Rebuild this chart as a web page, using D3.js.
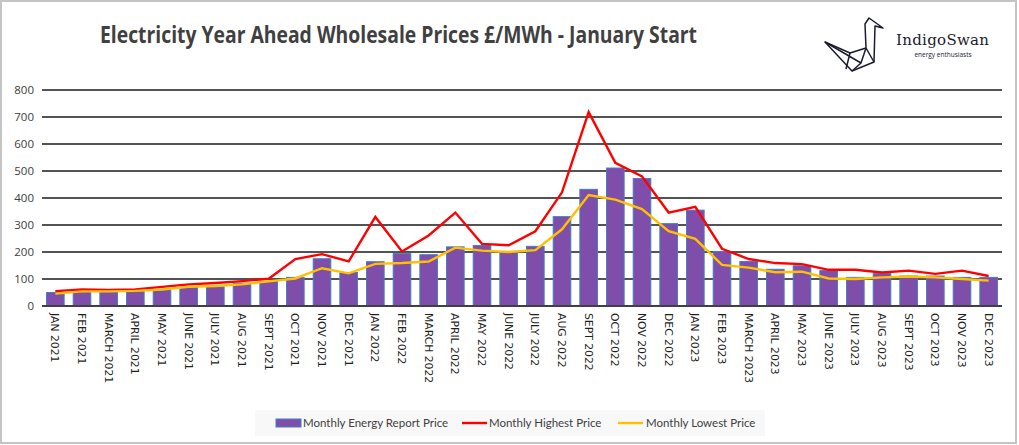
<!DOCTYPE html>
<html>
<head>
<meta charset="utf-8">
<script src="https://cdn.jsdelivr.net/npm/d3@7"></script>
<style>
  body { margin: 0; background: #fff; }
  svg { display: block; }
</style>
</head>
<body>
<div id="chart"></div>
<script>
// Chart data
const months = ['JAN 2021','FEB 2021','MARCH 2021','APRIL 2021','MAY 2021','JUNE 2021','JULY 2021','AUG 2021','SEPT 2021','OCT 2021','NOV 2021','DEC 2021',
  'JAN 2022','FEB 2022','MARCH 2022','APRIL 2022','MAY 2022','JUNE 2022','JULY 2022','AUG 2022','SEPT 2022','OCT 2022','NOV 2022','DEC 2022',
  'JAN 2023','FEB 2023','MARCH 2023','APRIL 2023','MAY 2023','JUNE 2023','JULY 2023','AUG 2023','SEPT 2023','OCT 2023','NOV 2023','DEC 2023'];
const reportPrice = [50,52,52,55,61,69,71,85,91,106,175,124, 164,194,190,219,224,200,221,331,432,511,472,305, 355,202,165,136,149,131,106,121,111,111,106,106];
const highestPrice = [55,61,59,61,71,80,85,92,101,174,192,165, 330,202,261,346,230,225,277,421,718,530,480,346, 367,212,174,159,155,134,134,124,131,119,131,111];
const lowestPrice = [46,54,54,56,61,71,74,80,91,102,140,121, 156,159,165,216,205,200,207,284,411,394,359,277, 249,152,142,125,127,102,100,106,109,106,100,94];
const yTicks = [0,100,200,300,400,500,600,700,800];
const legendLabels = ['Monthly Energy Report Price','Monthly Highest Price','Monthly Lowest Price'];

const W = 1019, H = 445;
const svg = d3.select('#chart').append('svg')
    .attr('width', W)
    .attr('height', H);

// Outer frame
svg.append('rect')
    .attr('x', 1).attr('y', 1)
    .attr('width', 1015).attr('height', 442)
    .attr('fill', '#fff')
    .attr('stroke', '#c4c4c4')
    .attr('stroke-width', 2);

// Title
svg.append('text')
    .attr('x', 100).attr('y', 43)
    .attr('textLength', 597)
    .attr('lengthAdjust', 'spacingAndGlyphs')
    .attr('font-family', '"Liberation Sans Narrow", "Open Sans", sans-serif')
    .attr('font-weight', 'bold')
    .attr('font-size', 24)
    .attr('fill', '#404040')
    .text('Electricity Year Ahead Wholesale Prices £/MWh - January Start');

// Logo (origami swan)
const logo = svg.append('g')
    .attr('fill', 'none')
    .attr('stroke', '#1c1c30')
    .attr('stroke-width', 1.5)
    .attr('stroke-linejoin', 'round');
logo.append('path').attr('d', 'M869,18 L883,28 L875,26 L874,62 L852,71 L825,42 L850,53 L866,48 L865,24 Z');
logo.append('path').attr('d', 'M825,42 L861,63 L852,71 M850,53 L846,69 M866,48 L874,62 M861,63 L866,48');
svg.append('text')
    .attr('x', 896).attr('y', 45)
    .attr('font-family', '"DejaVu Serif", serif')
    .attr('font-size', 15)
    .attr('fill', '#1c1c30')
    .attr('textLength', 93)
    .text('IndigoSwan');
svg.append('text')
    .attr('x', 943).attr('y', 57)
    .attr('text-anchor', 'middle')
    .attr('font-family', '"Open Sans", sans-serif')
    .attr('font-size', 6.5)
    .attr('fill', '#1c1c30')
    .text('energy enthusiasts');

// Scales
const x = d3.scaleBand()
    .domain(months)
    .range([42, 1002])
    .paddingInner(0.34)
    .paddingOuter(0.17);

const xc = d => x(d) + x.bandwidth() / 2;

const y = d3.scaleLinear()
    .domain([0, 800])
    .range([306, 90]);

// Gridlines
svg.append('g').selectAll('line')
    .data(yTicks.filter(d => d > 0))
    .enter().append('line')
    .attr('x1', 42).attr('x2', 1002)
    .attr('y1', d => y(d)).attr('y2', d => y(d))
    .attr('stroke', '#1a1a1a')
    .attr('stroke-width', 1.4);

// Y axis labels
const yAxis = svg.append('g')
    .attr('transform', 'translate(42,0)')
    .call(d3.axisLeft(y).tickValues(yTicks).tickSize(0).tickPadding(8));
yAxis.select('.domain').remove();
yAxis.selectAll('text')
    .attr('font-family', '"Open Sans", sans-serif')
    .attr('font-size', 11.5)
    .attr('fill', '#404040');

// Bars
svg.append('g').selectAll('rect')
    .data(reportPrice)
    .enter().append('rect')
    .attr('x', (d, i) => x(months[i]))
    .attr('y', d => y(d))
    .attr('width', x.bandwidth())
    .attr('height', d => y(0) - y(d))
    .attr('fill', '#7f4eab')
    .attr('stroke', '#3f7fc4')
    .attr('stroke-width', 1);

// Baseline
svg.append('line')
    .attr('x1', 42).attr('x2', 1002)
    .attr('y1', y(0)).attr('y2', y(0))
    .attr('stroke', '#404040')
    .attr('stroke-width', 2);

// X axis labels (rotated)
svg.append('g').selectAll('text')
    .data(months)
    .enter().append('text')
    .attr('transform', d => `translate(${xc(d) - 4},313) rotate(90)`)
    .attr('font-family', '"DejaVu Sans", sans-serif')
    .attr('font-size', 10.8)
    .attr('fill', '#1f1f1f')
    .text(d => d);

// Lines
const line = d3.line()
    .x((d, i) => xc(months[i]))
    .y(d => y(d));

svg.append('path')
    .datum(highestPrice)
    .attr('d', line)
    .attr('fill', 'none')
    .attr('stroke', '#ff0000')
    .attr('stroke-width', 2.4);

svg.append('path')
    .datum(lowestPrice)
    .attr('d', line)
    .attr('fill', 'none')
    .attr('stroke', '#ffc000')
    .attr('stroke-width', 2.4);

// Legend
const legend = svg.append('g');
legend.append('rect')
    .attr('x', 255).attr('y', 410)
    .attr('width', 510).attr('height', 26)
    .attr('fill', '#f8f8f8');
legend.append('rect')
    .attr('x', 276).attr('y', 419)
    .attr('width', 25).attr('height', 8)
    .attr('fill', '#7f4eab')
    .attr('stroke', '#3f7fc4');
legend.append('line')
    .attr('x1', 462).attr('x2', 487)
    .attr('y1', 423).attr('y2', 423)
    .attr('stroke', '#ff0000').attr('stroke-width', 2.4);
legend.append('line')
    .attr('x1', 618).attr('x2', 643)
    .attr('y1', 423).attr('y2', 423)
    .attr('stroke', '#ffc000').attr('stroke-width', 2.4);
legend.selectAll('text.lbl')
    .data(legendLabels)
    .enter().append('text')
    .attr('class', 'lbl')
    .attr('x', (d, i) => [303, 489, 646][i])
    .attr('y', 427)
    .attr('font-family', 'Lato, "Open Sans", sans-serif')
    .attr('font-size', 11.5)
    .attr('fill', '#404040')
    .text(d => d);
</script>
</body>
</html>
